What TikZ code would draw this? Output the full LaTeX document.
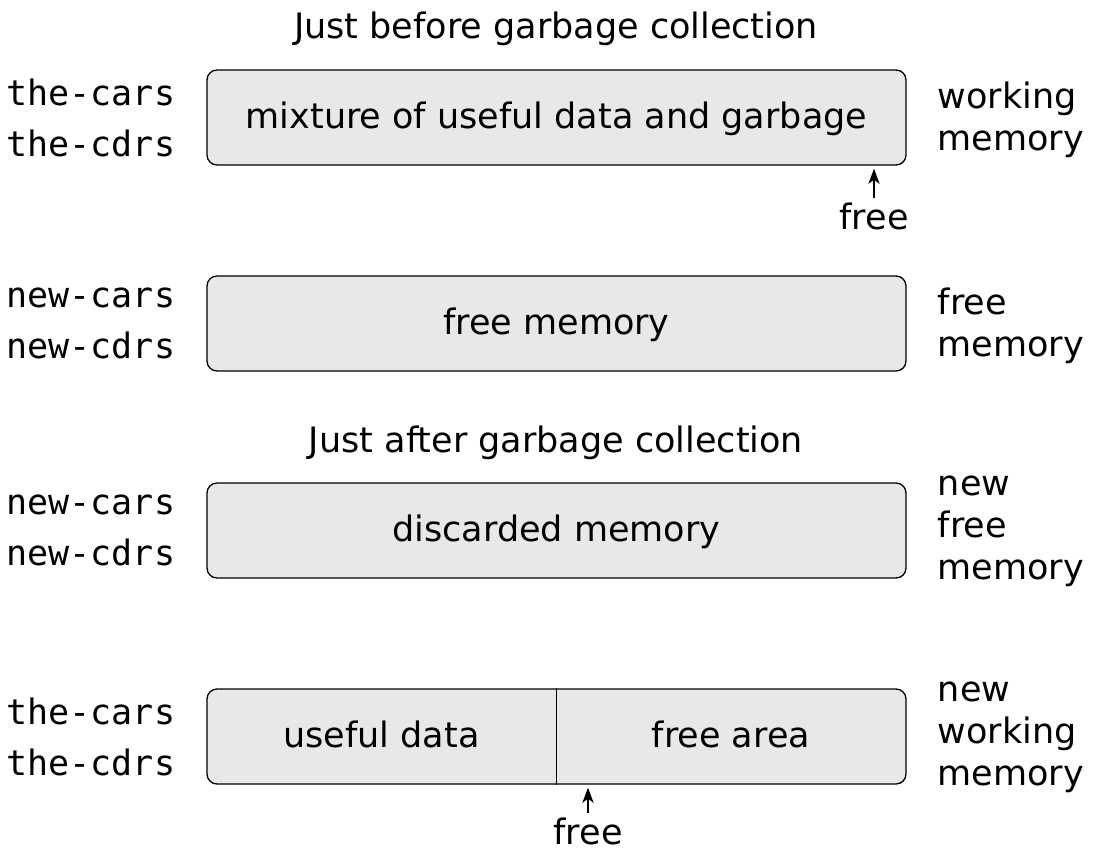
\documentclass[tikz,border=0pt]{standalone}
\usepackage{fontspec}
\setmainfont{DejaVu Sans}
\setmonofont{DejaVu Sans Mono}
\usetikzlibrary{arrows.meta, positioning}

\begin{document}
\begin{tikzpicture}[x=1pt, y=-1pt,
            membox/.style={draw, rounded corners=10pt,
                    fill={rgb,255:red,232;green,232;blue,232},
                    minimum width=699pt, minimum height=95pt,
                    line width=1.3pt, inner sep=0pt},
            txt/.style={font=\fontsize{35}{42}\selectfont, inner sep=0pt},
            regs/.style={font=\fontsize{35}{51}\selectfont\ttfamily,
                    align=left, inner sep=0pt},
            side/.style={font=\fontsize{35}{42}\selectfont,
                    align=left, inner sep=0pt},
            arr/.style={-{Stealth[length=15pt, width=11pt, inset=4pt]}, line width=2.3pt},
            node distance=31pt
        ]
        \useasboundingbox (0,0) rectangle (1099,851);

        % ---------------------------------------------------------------
        % BEFORE
        % ---------------------------------------------------------------
        \node[txt, anchor=base] (titlebefore) at (556,38) {Just before garbage collection};

        \node[membox] (work) at (556.5,117.5) {};
        \node[txt, anchor=base] (worktxt) at (556.5,128) {mixture of useful data and garbage};
        \node[regs, left=of work] (workregs) {the-cars\\the-cdrs};
        \node[side, right=of work, yshift=-2pt] (worklbl) {working\\memory};

        \node[txt] (freebefore) at (874,216) {free};
        \draw[arr, shorten <=4pt, shorten >=3pt] (freebefore.north) -- (freebefore |- work.south);

        \node[membox] (spare) at (556.5,323.5) {};
        \node[txt, anchor=base] (sparetxt) at (556.5,334) {free memory};
        \node[regs, left=of spare] (spareregs) {new-cars\\new-cdrs};
        \node[side, right=of spare, yshift=-2pt] (sparelbl) {free\\memory};

        % ---------------------------------------------------------------
        % AFTER
        % ---------------------------------------------------------------
        \node[txt, anchor=base] (titleafter) at (556,452) {Just after garbage collection};

        \node[membox] (discard) at (556.5,530.5) {};
        \node[txt, anchor=base] (discardtxt) at (556.5,541) {discarded memory};
        \node[regs, left=of discard] (discardregs) {new-cars\\new-cdrs};
        \node[side, right=of discard, yshift=-1pt] (discardlbl) {new\\free\\memory};

        \node[membox] (newwork) at (556.5,736.5) {};
        \draw[line width=1.3pt] (newwork.north) -- (newwork.south);
        \node[txt, anchor=base] (useful) at (381.5,747) {useful data};
        \node[txt, anchor=base] (freearea) at (731,747) {free area};
        \node[regs, left=of newwork] (newworkregs) {the-cars\\the-cdrs};
        \node[side, right=of newwork, yshift=-1pt] (newworklbl) {new\\working\\memory};

        \node[txt, anchor=base] (freeafter) at (588,844) {free};
        \draw[arr, shorten <=4pt, shorten >=3pt] (freeafter.north) -- (freeafter |- newwork.south);

    \end{tikzpicture}
\end{document}
